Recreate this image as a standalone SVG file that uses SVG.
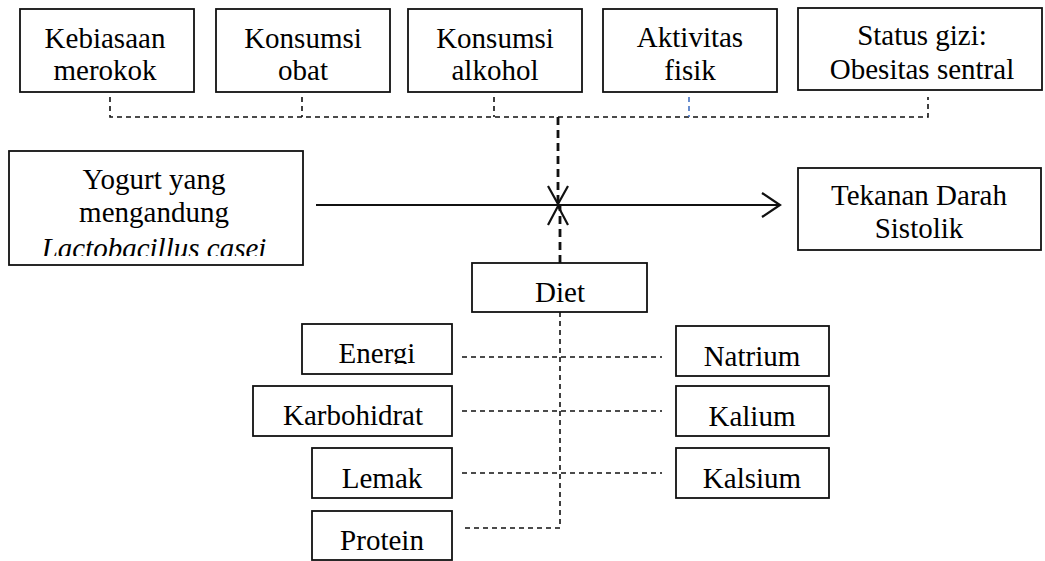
<svg xmlns="http://www.w3.org/2000/svg" width="1045" height="561" viewBox="0 0 1045 561">
<style>
.box{fill:#fff;stroke:#111;stroke-width:1.8}
.t{font-family:"Liberation Serif","Times New Roman",serif;font-size:29px;fill:#000;text-anchor:middle}
.d{fill:none;stroke:#111;stroke-width:1.6;stroke-dasharray:5 4}
.db{fill:none;stroke:#111;stroke-width:2.8;stroke-dasharray:8 5}
.s{fill:none;stroke:#111;stroke-width:2.2}
</style>
<defs>
<clipPath id="cY"><rect x="9" y="151" width="294" height="105"/></clipPath>
<clipPath id="cE"><rect x="302" y="324" width="150" height="40"/></clipPath>
<clipPath id="cK"><rect x="253" y="386" width="199" height="40"/></clipPath>
</defs>
<g id="connectors">
<path class="d" d="M110 97V117H928V97M302 97V117M494 97V117"/>
<path d="M689 97V117" fill="none" stroke="#4472C4" stroke-width="1.6" stroke-dasharray="5 4"/>
<path class="db" d="M558 117V203"/>
<path class="s" d="M548 186L558 204L568 186"/>
<path class="db" d="M560 263V206"/>
<path class="s" d="M548 225L558 206L568 225"/>
<path class="s" d="M316 205H780M762 193L780 205L762 217"/>
<path class="d" d="M560 312V528H462"/>
<path class="d" d="M462 357H662M462 411H662M462 473H662"/>
</g>
<g id="n-merokok"><rect class="box" x="20" y="9" width="174" height="83"/><text class="t" x="105" y="48">Kebiasaan</text><text class="t" x="105" y="80">merokok</text></g>
<g id="n-obat"><rect class="box" x="216" y="9" width="174" height="83"/><text class="t" x="303" y="48">Konsumsi</text><text class="t" x="303" y="80">obat</text></g>
<g id="n-alkohol"><rect class="box" x="408" y="9" width="174" height="83"/><text class="t" x="495" y="48">Konsumsi</text><text class="t" x="495" y="80">alkohol</text></g>
<g id="n-fisik"><rect class="box" x="603" y="9" width="174" height="83"/><text class="t" x="690" y="47">Aktivitas</text><text class="t" x="690" y="80">fisik</text></g>
<g id="n-gizi"><rect class="box" x="798" y="8" width="244" height="82"/><text class="t" x="922" y="45">Status gizi:</text><text class="t" x="922" y="79">Obesitas sentral</text></g>
<g id="n-yogurt"><rect class="box" x="9" y="151" width="294" height="114"/>
<g clip-path="url(#cY)"><text class="t" x="154" y="189">Yogurt yang</text><text class="t" x="154" y="222">mengandung</text><text class="t" x="154" y="258" font-style="italic">Lactobacillus casei</text></g></g>
<g id="n-tekanan"><rect class="box" x="798" y="168" width="243" height="82"/><text class="t" x="919" y="205">Tekanan Darah</text><text class="t" x="919" y="238">Sistolik</text></g>
<g id="n-diet"><rect class="box" x="472" y="263" width="175" height="49"/><text class="t" x="560" y="302">Diet</text></g>
<g id="n-energi"><rect class="box" x="302" y="324" width="150" height="50"/><g clip-path="url(#cE)"><text class="t" x="377" y="363">Energi</text></g></g>
<g id="n-karbo"><rect class="box" x="253" y="386" width="199" height="50"/><g clip-path="url(#cK)"><text class="t" x="353" y="425">Karbohidrat</text></g></g>
<g id="n-lemak"><rect class="box" x="312" y="448" width="140" height="50"/><text class="t" x="382" y="488">Lemak</text></g>
<g id="n-protein"><rect class="box" x="312" y="511" width="140" height="49"/><text class="t" x="382" y="550">Protein</text></g>
<g id="n-natrium"><rect class="box" x="676" y="326" width="153" height="50"/><text class="t" x="752" y="366">Natrium</text></g>
<g id="n-kalium"><rect class="box" x="676" y="386" width="153" height="50"/><text class="t" x="752" y="426">Kalium</text></g>
<g id="n-kalsium"><rect class="box" x="676" y="448" width="153" height="50"/><text class="t" x="752" y="488">Kalsium</text></g>
</svg>
